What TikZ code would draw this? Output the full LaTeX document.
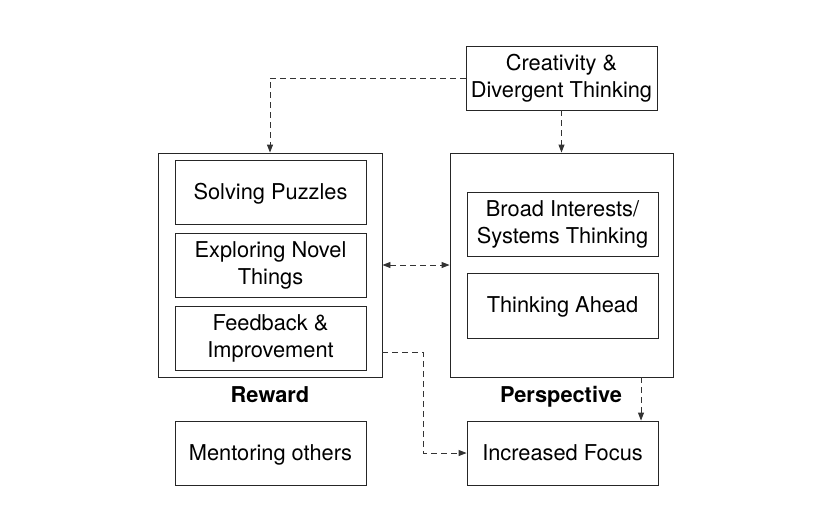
\documentclass[tikz,border=0pt]{standalone}
\usepackage{fontspec}
\setmainfont{TeX Gyre Heros}
\usetikzlibrary{arrows.meta}
\begin{document}
\begin{tikzpicture}[x=1pt,y=-1pt,
  box/.style={draw=black!85,line width=0.9pt,minimum width=191pt,minimum height=64pt,inner sep=0pt,align=center,font=\fontsize{21.8}{27}\selectfont},
  one/.style={text height=19.5pt,text depth=4.8pt},
  outer/.style={draw=black!85,line width=0.9pt,inner sep=0pt},
  lab/.style={font=\fontsize{21.8}{26}\selectfont\bfseries,text height=18pt,text depth=4.8pt},
  conn/.style={draw=black!80,line width=0.9pt,dash pattern=on 6pt off 4pt,-{Triangle[length=8pt,width=6pt]}}]
\useasboundingbox (0,0) rectangle (830,531);
\node[outer,minimum width=224pt,minimum height=224pt] (reward) at (270,265) {};
\node[outer,minimum width=223pt,minimum height=224pt] (persp) at (561.5,265) {};
\node[box] (creat) at (561.5,78) {Creativity \&\\Divergent Thinking};
\node[box,one] (puzz) at (270.5,192) {Solving Puzzles};
\node[box] (novel) at (270.5,265.5) {Exploring Novel\\Things};
\node[box] (feed) at (270.5,338.5) {Feedback \&\\Improvement};
\node[box] (broad) at (562.5,224.5) {Broad Interests/\\Systems Thinking};
\node[box,one,minimum height=65pt] (ahead) at (562.5,305.5) {Thinking Ahead};
\node[box,one] (mentor) at (270.5,453) {Mentoring others};
\node[box,one] (focus) at (562.5,453) {Increased Focus};
\node[lab] (rlab) at (270,396) {Reward};
\node[lab] (plab) at (561,396) {Perspective};
\coordinate (c2) at (423,352);
\coordinate (c3) at (423,453);
\draw[conn] (creat.west) -- (creat.west -| reward.north) -- (reward.north);
\draw[conn] (creat.south) -- (persp.north -| creat.south);
\draw[conn,{Triangle[length=8pt,width=6pt]}-{Triangle[length=8pt,width=6pt]}] (reward.east) -- (persp.west);
\draw[conn] (reward.east |- c2) -- (c2) -- (c3) -- (focus.west);
\draw[conn] (persp.south -| 641,0) -- (focus.north -| 641,0);
\end{tikzpicture}
\end{document}
